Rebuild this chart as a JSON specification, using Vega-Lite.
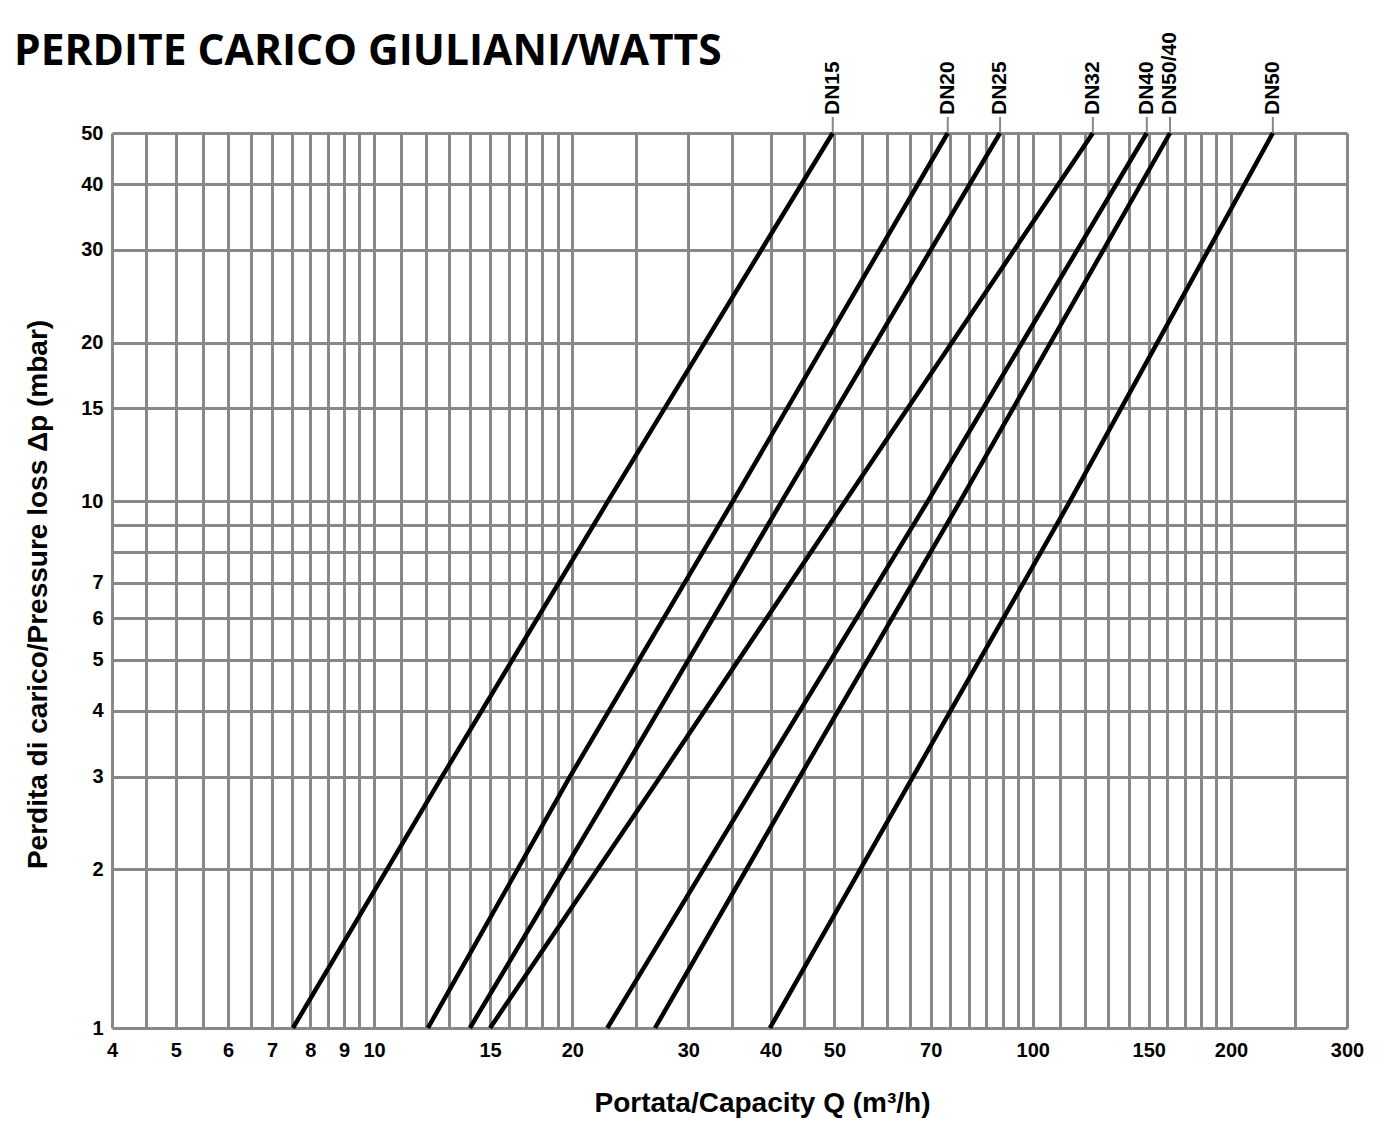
{
  "$schema": "https://vega.github.io/schema/vega-lite/v6.json",
  "width": 1235,
  "height": 895,
  "autosize": "none",
  "padding": {"left": 112, "top": 133, "right": 45, "bottom": 99},
  "background": "white",
  "config": {"view": {"stroke": null}},
  "title": {
    "text": "PERDITE CARICO GIULIANI/WATTS",
    "anchor": "start",
    "frame": "group",
    "dx": -98,
    "offset": -75,
    "baseline": "alphabetic",
    "font": "Open Sans",
    "fontSize": 42.5,
    "fontWeight": "bold",
    "color": "black"
  },
  "datasets": {
    "curves": [
      {"serie": "DN15", "Q": 7.53, "dp": 1},
      {"serie": "DN15", "Q": 12.68, "dp": 3},
      {"serie": "DN15", "Q": 22.65, "dp": 10},
      {"serie": "DN15", "Q": 49.7, "dp": 50},
      {"serie": "DN20", "Q": 12.07, "dp": 1},
      {"serie": "DN20", "Q": 19.83, "dp": 3},
      {"serie": "DN20", "Q": 35.06, "dp": 10},
      {"serie": "DN20", "Q": 74.3, "dp": 50},
      {"serie": "DN25", "Q": 13.98, "dp": 1},
      {"serie": "DN25", "Q": 23.6, "dp": 3},
      {"serie": "DN25", "Q": 41.6, "dp": 10},
      {"serie": "DN25", "Q": 89.2, "dp": 50},
      {"serie": "DN32", "Q": 15.0, "dp": 1},
      {"serie": "DN32", "Q": 27.2, "dp": 3},
      {"serie": "DN32", "Q": 51.9, "dp": 10},
      {"serie": "DN32", "Q": 123.4, "dp": 50},
      {"serie": "DN40", "Q": 22.6, "dp": 1},
      {"serie": "DN40", "Q": 38.5, "dp": 3},
      {"serie": "DN40", "Q": 69.3, "dp": 10},
      {"serie": "DN40", "Q": 149, "dp": 50},
      {"serie": "DN50/40", "Q": 26.7, "dp": 1},
      {"serie": "DN50/40", "Q": 44.3, "dp": 3},
      {"serie": "DN50/40", "Q": 77.6, "dp": 10},
      {"serie": "DN50/40", "Q": 161.6, "dp": 50},
      {"serie": "DN50", "Q": 39.9, "dp": 1},
      {"serie": "DN50", "Q": 65.8, "dp": 3},
      {"serie": "DN50", "Q": 113.9, "dp": 10},
      {"serie": "DN50", "Q": 231.5, "dp": 50}
    ]
  },
  "data": {"name": "curves"},
  "layer": [
    {
      "mark": {"type": "line", "color": "black", "strokeWidth": 4.5, "strokeCap": "butt"},
      "encoding": {
        "x": {
          "field": "Q",
          "type": "quantitative",
          "scale": {"type": "log", "domain": [4, 300], "nice": false},
          "axis": {
            "values": [4,4.5,5,5.5,6,6.5,7,7.5,8,8.5,9,9.5,10,11,12,13,14,15,16,17,18,19,20,25,30,35,40,45,50,55,60,65,70,75,80,85,90,95,100,110,120,130,140,150,160,170,180,190,200,250,300],
            "labelExpr": "indexof([4,5,6,7,8,9,10,15,20,30,40,50,70,100,150,200,300], datum.value) >= 0 ? '' + datum.value : ''",
            "labelOverlap": false,
            "labelFlush": false,
            "labelBound": false,
            "grid": true,
            "gridColor": "#888888",
            "gridWidth": 3,
            "gridOpacity": 1,
            "domain": false,
            "ticks": false,
            "labelPadding": 12,
            "labelFont": "Liberation Sans",
            "labelFontSize": 20,
            "labelFontWeight": "bold",
            "labelColor": "black",
            "title": "Portata/Capacity Q (m³/h)",
            "titleFont": "Liberation Sans",
            "titleFontSize": 28,
            "titleFontWeight": "bold",
            "titleColor": "black",
            "titleX": 650,
            "titleY": 83,
            "titleBaseline": "alphabetic"
          }
        },
        "y": {
          "field": "dp",
          "type": "quantitative",
          "scale": {"type": "log", "domain": [1, 50], "nice": false},
          "axis": {
            "values": [1,2,3,4,5,6,7,8,9,10,15,20,30,40,50],
            "labelExpr": "indexof([8,9], datum.value) >= 0 ? '' : '' + datum.value",
            "labelOverlap": false,
            "labelBound": false,
            "grid": true,
            "gridColor": "#888888",
            "gridWidth": 3,
            "gridOpacity": 1,
            "domain": false,
            "ticks": false,
            "labelPadding": 9,
            "labelFont": "Liberation Sans",
            "labelFontSize": 20,
            "labelFontWeight": "bold",
            "labelColor": "black",
            "title": "Perdita di carico/Pressure loss Δp (mbar)",
            "titleFont": "Liberation Sans",
            "titleFontSize": 28,
            "titleFontWeight": "bold",
            "titleColor": "black",
            "titleX": -66,
            "titleY": 461,
            "titleBaseline": "alphabetic"
          }
        },
        "detail": {"field": "serie", "type": "nominal"}
      }
    },
    {
      "transform": [{"filter": "datum.dp == 50"}],
      "mark": {"type": "point", "shape": "M0,0L0,-1", "size": 1024, "filled": false, "stroke": "#888888", "strokeWidth": 2, "opacity": 1},
      "encoding": {
        "x": {"field": "Q", "type": "quantitative"},
        "y": {"field": "dp", "type": "quantitative"}
      }
    },
    {
      "transform": [{"filter": "datum.dp == 50"}],
      "mark": {"type": "text", "angle": 270, "align": "left", "baseline": "middle", "dx": 18, "font": "Liberation Sans", "fontSize": 21, "fontWeight": "bold", "color": "black"},
      "encoding": {
        "x": {"field": "Q", "type": "quantitative"},
        "y": {"field": "dp", "type": "quantitative"},
        "text": {"field": "serie", "type": "nominal"}
      }
    }
  ]
}
